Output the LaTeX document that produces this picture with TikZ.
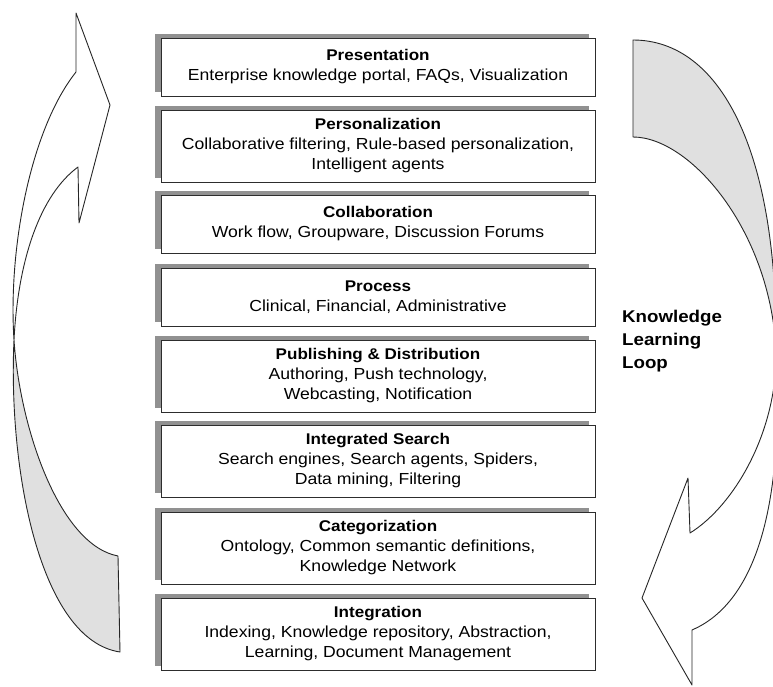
\documentclass[tikz,border=0pt]{standalone}
\usepackage{fontspec}
\setmainfont{Liberation Sans}[FakeStretch=1.1]
\usetikzlibrary{shadows}
\definecolor{frameline}{RGB}{45,45,45}
\definecolor{shadowgray}{RGB}{145,145,145}
\definecolor{backface}{RGB}{224,224,224}
\tikzset{
  layer/.style={draw=frameline, line width=0.9pt, fill=white,
    minimum width=434pt, inner sep=0pt, align=center,
    font=\fontsize{16}{20}\selectfont,
    drop shadow={shadow xshift=-6pt, shadow yshift=4pt, fill=shadowgray, opacity=1}},
  twoline/.style={layer, minimum height=58pt},
  threeline/.style={layer, minimum height=72pt},
  looptext/.style={anchor=base west, inner sep=0pt, font=\fontsize{17}{23}\selectfont\bfseries},
  arrowface/.style={draw=black!85, line width=0.9pt, line join=round, fill=white},
  arrowback/.style={draw=black!85, line width=0.9pt, line join=round, fill=backface}
}
\newcommand{\ttl}[1]{\textbf{\fontsize{15.5}{20}\selectfont #1}}
\begin{document}
\begin{tikzpicture}[x=1pt,y=-1pt]
\useasboundingbox (0,0) rectangle (773,686);

% the two twisted ribbon arrows of the learning loop
\begin{scope}
\clip (0,0) rectangle (773,686);
% left arrow: rising, ribbon twists at (lx)
\coordinate (lx) at (14,340);
\path[arrowback] (lx) .. controls (8,470) and (40,640) .. (120,652)
  -- (118,556) .. controls (60,545) and (20,430) .. (lx) -- cycle;
\path[arrowface] (76,13) -- (110,105) -- (79,223) -- (78,167)
  .. controls (40,195) and (18,260) .. (lx)
  .. controls (8,250) and (30,130) .. (76,72) -- cycle;
% right arrow: descending, ribbon twists at (rx)
\coordinate (rx) at (776,350);
\path[arrowback] (633,40) .. controls (720,40) and (778,150) .. (rx)
  .. controls (770,230) and (690,137) .. (633,137) -- cycle;
\path[arrowface] (rx) .. controls (778,430) and (735,505) .. (690,533)
  -- (688,478) -- (642,598) -- (692,685) -- (692,630)
  .. controls (750,605) and (785,520) .. (rx) -- cycle;
\end{scope}

% the layer stack
\node[twoline] (presentation) at (378,67)
  {\ttl{Presentation}\\Enterprise knowledge portal, FAQs, Visualization};
\node[threeline] (personalization) at (378,146)
  {\ttl{Personalization}\\Collaborative filtering, Rule-based personalization,\\Intelligent agents};
\node[twoline] (collaboration) at (378,224)
  {\ttl{Collaboration}\\Work flow, Groupware, Discussion Forums};
\node[twoline] (process) at (378,297)
  {\ttl{Process}\\Clinical, Financial, Administrative};
\node[threeline] (publishing) at (378,376)
  {\ttl{Publishing \& Distribution}\\Authoring, Push technology,\\Webcasting, Notification};
\node[threeline] (search) at (378,461)
  {\ttl{Integrated Search}\\Search engines, Search agents, Spiders,\\Data mining, Filtering};
\node[threeline] (categorization) at (378,548)
  {\ttl{Categorization}\\Ontology, Common semantic definitions,\\Knowledge Network};
\node[threeline] (integration) at (378,634)
  {\ttl{Integration}\\Indexing, Knowledge repository, Abstraction,\\Learning, Document Management};

% loop caption
\node[looptext] (loop1) at (622,322) {Knowledge};
\node[looptext] (loop2) at (622,345) {Learning};
\node[looptext] (loop3) at (622,368) {Loop};
\end{tikzpicture}
\end{document}
